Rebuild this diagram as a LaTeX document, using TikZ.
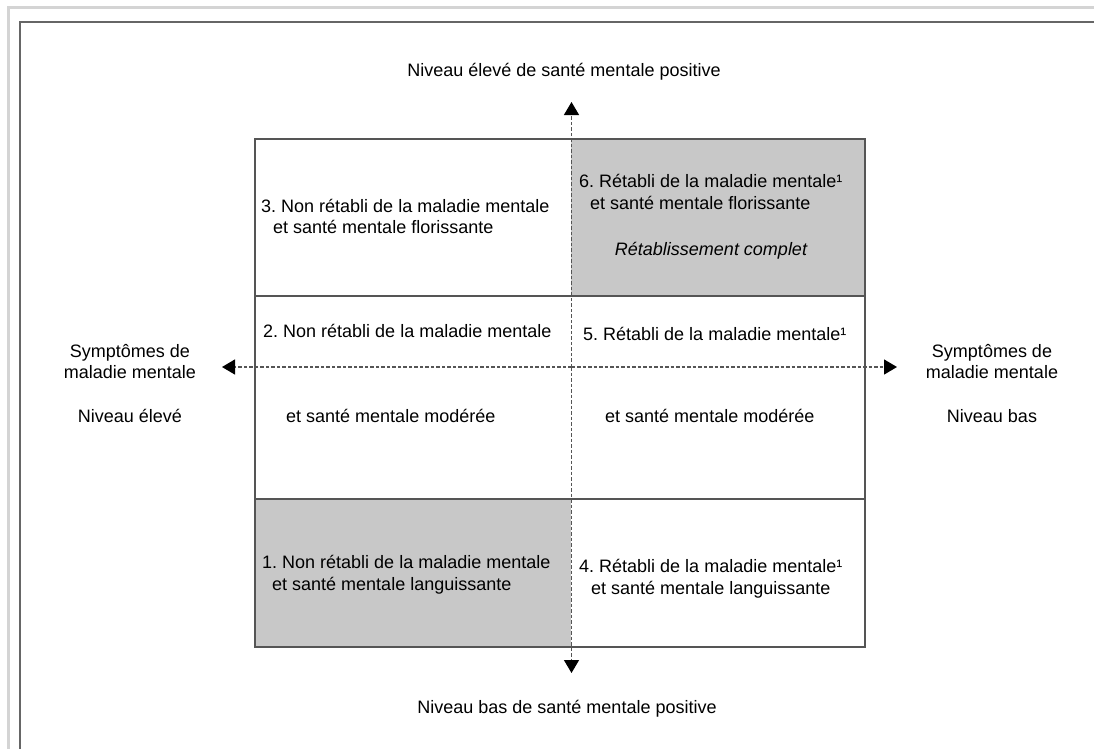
\documentclass[tikz,border=0pt]{standalone}
\usepackage{fontspec}
\setmainfont{Liberation Sans}
\frenchspacing
\usetikzlibrary{arrows.meta}
\definecolor{cellgray}{HTML}{C8C8C8}
\definecolor{linegray}{HTML}{555555}
\definecolor{framegray}{HTML}{666666}
\definecolor{outergray}{HTML}{D4D4D4}
\tikzset{
  txt/.style={inner sep=0pt, font=\fontsize{18}{21}\selectfont, text=black},
  lbl/.style={txt, anchor=base west},
  clbl/.style={txt, anchor=base},
  grid/.style={draw=linegray, line width=1.2pt},
  axis/.style={draw=linegray, line width=1.3pt, dash pattern=on 3.5pt off 2pt,
    -{Triangle[length=13pt,width=15pt,fill=black,color=black]}},
}
\begin{document}
\begin{tikzpicture}[x=1pt,y=-1pt]
\clip (0,0) rectangle (1094,748);
\useasboundingbox (0,0) rectangle (1094,748);
\fill[white] (0,0) rectangle (1094,748);
% frames
\draw[outergray, line width=3pt] (8.5,760) -- (8.5,7.5) -- (1110,7.5);
\draw[framegray, line width=2pt] (20,760) -- (20,22) -- (1110,22);
% shaded cells
\fill[cellgray] (571,139) rectangle (865,296);
\fill[cellgray] (255,499) rectangle (571,647);
% grid
\draw[grid] (255,139) rectangle (865,647);
\draw[grid] (255,296) -- (865,296);
\draw[grid] (255,499) -- (865,499);
% axes
\coordinate (vtop) at (571.5,102);
\coordinate (vbot) at (571.5,673);
\coordinate (hleft) at (222,367);
\coordinate (hright) at (897,367);
\coordinate (vc) at (571.5,367);
\draw[axis] (vc) -- (vtop);
\draw[axis] (vc) -- (vbot);
\draw[axis] (vc) -- (hleft);
\draw[axis] (vc) -- (hright);
% outer labels
\node[clbl] (top) at (564,76) {Niveau élevé de santé mentale positive};
\node[clbl] (bot) at (567,713) {Niveau bas de santé mentale positive};
\node[clbl] (l1) at (130,357) {Symptômes de};
\node[clbl] (l2) at (130,378) {maladie mentale};
\node[clbl] (l3) at (130,422) {Niveau élevé};
\node[clbl] (r1) at (992,357) {Symptômes de};
\node[clbl] (r2) at (992,378) {maladie mentale};
\node[clbl] (r3) at (992,422) {Niveau bas};
% cell 3
\node[lbl] (c3a) at (261,212) {3. Non rétabli de la maladie mentale};
\node[lbl] (c3b) at (273,233) {et santé mentale florissante};
% cell 6
\node[lbl] (c6a) at (579,187) {6. Rétabli de la maladie mentale¹};
\node[lbl] (c6b) at (590,209) {et santé mentale florissante};
\node[clbl, font=\fontsize{18}{21}\selectfont\itshape] (c6c) at (711,255) {Rétablissement complet};
% cell 2
\node[lbl] (c2a) at (263,337) {2. Non rétabli de la maladie mentale};
\node[lbl] (c2b) at (286,422) {et santé mentale modérée};
% cell 5
\node[lbl] (c5a) at (583,340) {5. Rétabli de la maladie mentale¹};
\node[lbl] (c5b) at (605,422) {et santé mentale modérée};
% cell 1
\node[lbl] (c1a) at (262,568) {1. Non rétabli de la maladie mentale};
\node[lbl] (c1b) at (272,590) {et santé mentale languissante};
% cell 4
\node[lbl] (c4a) at (579,572) {4. Rétabli de la maladie mentale¹};
\node[lbl] (c4b) at (591,594) {et santé mentale languissante};
\end{tikzpicture}
\end{document}
